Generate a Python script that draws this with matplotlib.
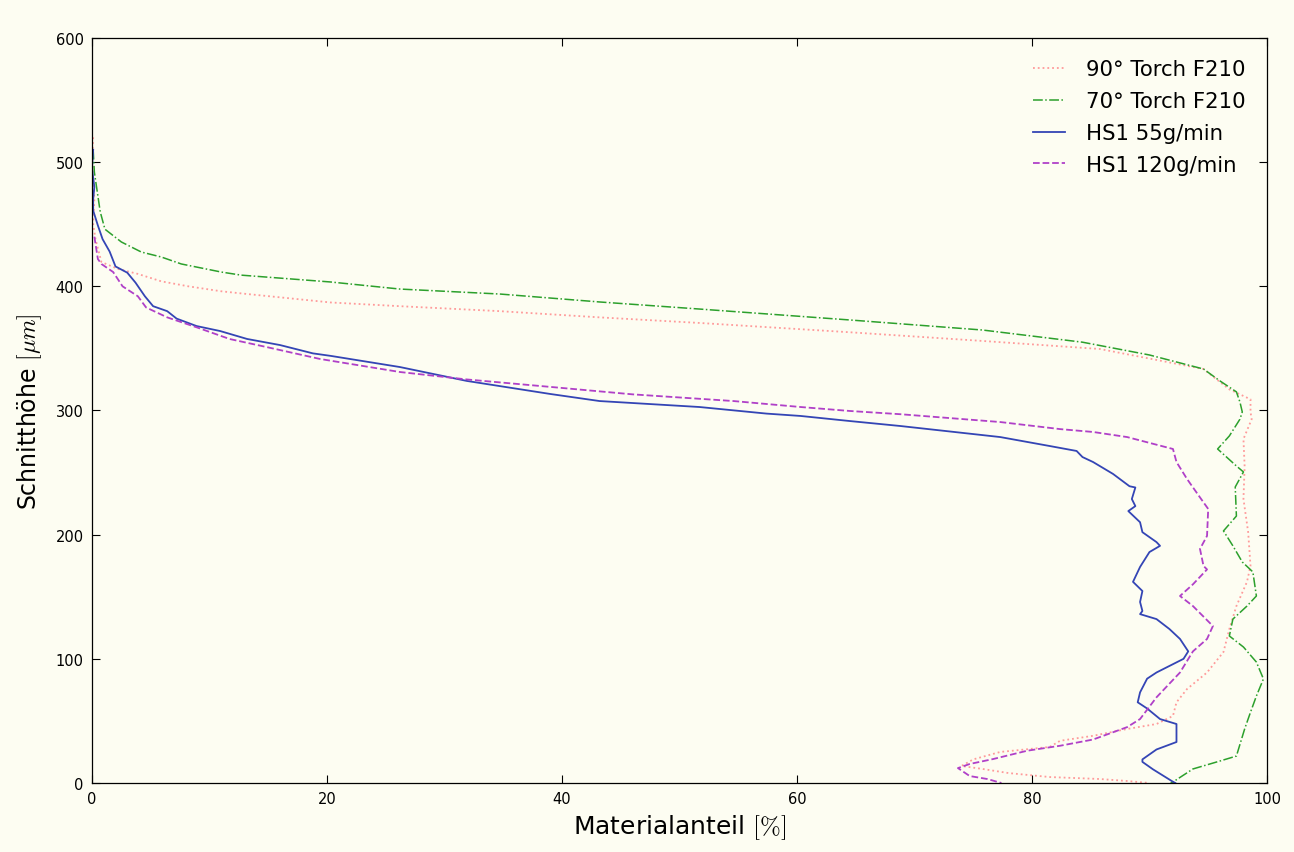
import matplotlib
matplotlib.use("Agg")
import matplotlib.pyplot as plt

plt.rcParams["mathtext.fontset"] = "cm"

# Material ratio curves: material share [%] versus cut height [um]
torch90_x = [0.1, 0.0, 0.2, 0.1, 0.3, 0.8, 2.2, 3.9, 5.9, 8.2, 11.0, 13.0, 20.3, 26.2, 34.7,
             43.2, 51.7, 64.5, 75.8, 85.8, 94.6, 96.8, 98.6, 98.6, 98.7, 98.0, 98.1, 98.0,
             98.4, 98.6, 98.3, 97.4, 96.8, 96.3, 94.9, 93.2, 92.3, 92.0, 90.6, 88.1, 85.2,
             82.4, 81.5, 77.3, 75.0, 74.0, 75.8, 78.0, 81.5, 85.8, 88.1, 90.0]
torch90_y = [520, 500, 470, 450, 438, 419.6, 414, 410, 404, 400, 396, 394, 387, 384, 380,
             375, 370.5, 363, 356, 349.5, 333.4, 317, 309, 298.8, 293, 277, 255, 228.7,
             202, 174.8, 162, 142.5, 124, 105.5, 89, 75.7, 65, 54, 47.5, 43.5, 38,
             34, 29, 25, 19, 13.7, 11.3, 8, 4.8, 3.2, 1.6, 0]

torch70_x = [0.1, 0.2, 0.7, 1.1, 2.5, 4.2, 5.9, 7.6, 11.0, 12.7, 20.3, 26.2, 34.7, 43.2,
             51.7, 64.5, 75.8, 84.3, 90.0, 94.6, 96.0, 97.4, 97.7, 97.9, 97.7, 96.8, 95.8,
             97.4, 98.0, 97.3, 97.4, 96.3, 97.1, 97.9, 98.8, 99.1, 98.3, 97.1, 96.8, 98.0,
             99.1, 99.7, 99.1, 98.6, 98.1, 97.4, 96.0, 93.7, 92.0, 91.8]
torch70_y = [510, 492, 460, 446, 435.7, 427.6, 423.6, 418, 411.5, 409, 403.5, 397.8, 393.8,
             387.4, 381.7, 372.9, 364.8, 355, 344.7, 333.4, 323.8, 315, 306.8, 298.8, 293,
             279.5, 269, 255.3, 250.5, 238.4, 215, 203, 191, 178, 170, 150.6, 142.5, 132,
             118.4, 109.5, 97.4, 83.8, 70, 57, 43.5, 21.7, 17.7, 11.3, 0.8, 0]

hs1_55_x = [0.1, 0.0, 0.2, 0.1, 0.1, 0.5, 0.9, 1.5, 2.0, 3.0, 3.7, 4.5, 5.2, 6.4, 7.2, 8.9,
            10.9, 13.2, 16.0, 18.8, 20.3, 26.2, 31.9, 39.0, 43.2, 51.7, 57.4, 60.3, 64.5,
            68.8, 77.3, 81.5, 83.8, 84.3, 85.2, 86.9, 88.3, 88.8, 88.5, 88.8, 88.2, 89.2,
            89.4, 90.6, 90.9, 90.0, 89.2, 88.6, 89.4, 89.2, 89.4, 89.2, 90.6, 91.7, 92.6,
            93.3, 92.9, 90.6, 89.8, 89.2, 89.0, 89.8, 90.9, 92.3, 92.3, 90.6, 89.4, 89.4,
            90.3, 92.0, 92.2]
hs1_55_y = [510, 495, 480, 470, 461, 449, 438, 428, 416, 411, 403, 392, 384, 380, 374, 368,
            364, 357.6, 352.7, 346, 344, 335, 323.8, 313.3, 307.6, 302.8, 297.5, 295.6, 291.5,
            287.5, 278.6, 271.4, 267.4, 262.5, 258.5, 248.9, 239, 238, 228.7, 223, 219, 210,
            202, 194, 191, 186, 174, 162, 154.6, 145.8, 138.5, 136, 132, 124, 116,
            106, 100, 89, 84, 73, 65, 60, 51.5, 47.5, 33, 27, 19, 17,
            11, 1, 0]

hs1_120_x = [0.2, 0.5, 0.8, 1.8, 2.6, 3.9, 4.6, 6.4, 8.9, 11.7, 14.9, 19.4, 26.2, 31.9, 39.0,
             46.0, 54.6, 60.3, 64.5, 68.8, 77.3, 82.4, 85.2, 88.1, 92.0, 92.3, 93.2, 94.3,
             95.0, 94.9, 94.3, 94.6, 94.9, 93.7, 92.6, 93.7, 95.4, 94.9, 93.7, 92.6, 90.6,
             89.2, 88.1, 85.2, 82.4, 79.6, 76.7, 74.7, 73.7, 74.7, 76.2, 77.4]
hs1_120_y = [440, 422, 418, 411.5, 400, 392, 383, 375, 367, 357.6, 351, 341.5, 331, 325, 319,
             313, 307.6, 302.8, 299.6, 297, 290.7, 285, 282.7, 278.6, 269, 258.5, 244.8, 230,
             220.7, 199, 188.5, 174.8, 172, 160, 150.6, 142.5, 126.4, 116, 106, 89, 69,
             51.5, 45, 35, 30, 26, 19.3, 15.3, 12, 5.6, 3.2, 0]

labels = ["90° Torch F210", "70° Torch F210", "HS1 55g/min", "HS1 120g/min"]
x_ticks = [0, 20, 40, 60, 80, 100]
y_ticks = [0, 100, 200, 300, 400, 500, 600]

bg = "#fdfdf2"
fig = plt.figure(figsize=(12.94, 8.53), dpi=100, facecolor=bg)
ax = fig.add_axes([0.0711, 0.0809, 0.9080, 0.8734], facecolor=bg)

ax.plot(torch90_x, torch90_y, linestyle=":", color="#ff9a9a", lw=1.3, label=labels[0])
ax.plot(torch70_x, torch70_y, linestyle="-.", color="#2ca02c", lw=1.1, label=labels[1])
ax.plot(hs1_55_x, hs1_55_y, linestyle="-", color="#3445b5", lw=1.3, label=labels[2])
ax.plot(hs1_120_x, hs1_120_y, linestyle="--", color="#b040c8", lw=1.3, label=labels[3])

ax.set_xlim(0, 100)
ax.set_ylim(0, 600)
ax.set_xticks(x_ticks)
ax.set_yticks(y_ticks)
ax.tick_params(direction="in", top=True, right=True, length=6, width=0.8,
               labelsize=10.5, pad=6)
for s in ax.spines.values():
    s.set_linewidth(0.9)
    s.set_color("black")

ax.set_xlabel(r"Materialanteil $[\%]$", fontsize=18, labelpad=4)
ax.set_ylabel(r"Schnitthöhe $[\mu m]$", fontsize=17, labelpad=8)

leg = ax.legend(loc="upper right", frameon=False, fontsize=15.3, handlelength=1.5,
                handletextpad=1.0, labelspacing=0.56, borderaxespad=0.6)

fig.savefig("out.png", dpi=100, facecolor=bg)
